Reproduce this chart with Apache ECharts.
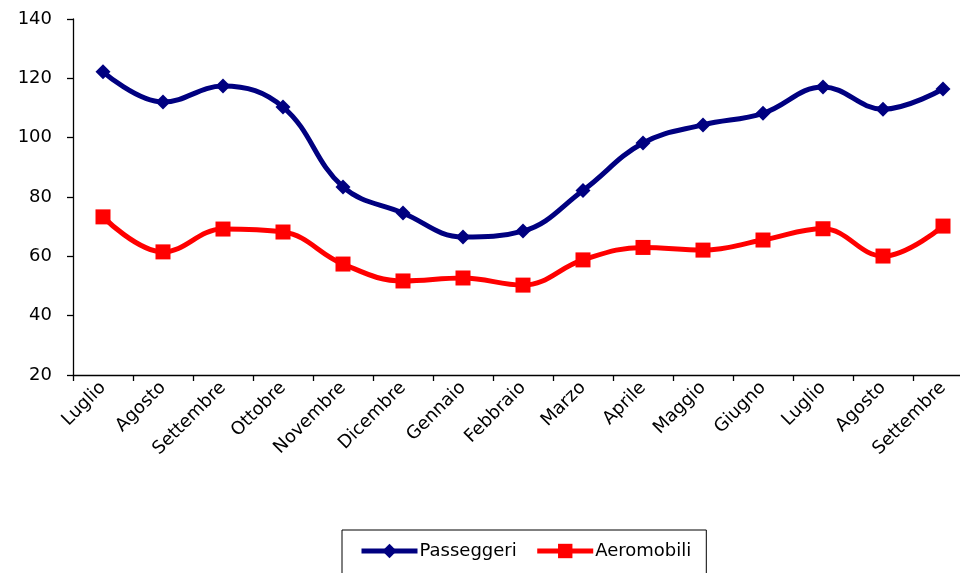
<!DOCTYPE html>
<html><head><meta charset="utf-8">
<script src="https://cdn.jsdelivr.net/npm/echarts@6/dist/echarts.min.js"></script>
<style>html,body{margin:0;padding:0;background:#fff;overflow:hidden}#c{width:1000px;height:573px}</style>
</head><body><div id="c"></div>
<script>
const categories = ['Luglio','Agosto','Settembre','Ottobre','Novembre','Dicembre','Gennaio','Febbraio','Marzo','Aprile','Maggio','Giugno','Luglio','Agosto','Settembre'];
const passeggeri = [122.2, 112.0, 117.4, 110.3, 83.4, 74.6, 66.5, 68.5, 82.2, 98.2, 104.3, 108.2, 117.1, 109.6, 116.4];
const aeromobili = [73.3, 61.5, 69.2, 68.2, 57.4, 51.7, 52.7, 50.3, 58.8, 63.0, 62.1, 65.5, 69.3, 60.1, 70.2];
const yTicks = {min: 20, max: 140, interval: 20};

const font = 'DejaVu Sans';
const chart = echarts.init(document.getElementById('c'), null, {renderer: 'canvas'});
chart.setOption({
  animation: false,
  textStyle: {fontFamily: font},
  grid: {left: 73, top: 19, width: 900, height: 356, containLabel: false},
  legend: {
    top: 530, left: 342,
    padding: [12, 15, 30, 17],
    borderColor: '#000', borderWidth: 1,
    itemWidth: 56, itemHeight: 18, itemGap: 18,
    lineStyle: {width: 5},
    textStyle: {fontFamily: font, fontSize: 18, color: '#000', padding: [0,0,0,-3]},
    data: ['Passeggeri', 'Aeromobili']
  },
  xAxis: {
    type: 'category', data: categories, boundaryGap: true,
    axisLine: {lineStyle: {color: '#000', width: 1.3}},
    axisTick: {show: true, length: 6, lineStyle: {color: '#000', width: 1.3}},
    axisLabel: {rotate: 45, interval: 0, fontFamily: font, fontSize: 18, color: '#000', margin: 10},
    splitLine: {show: false}
  },
  yAxis: {
    type: 'value', min: yTicks.min, max: yTicks.max, interval: yTicks.interval,
    axisLine: {show: true, lineStyle: {color: '#000', width: 1.3}},
    axisTick: {show: true, length: 6, lineStyle: {color: '#000', width: 1.3}},
    axisLabel: {fontFamily: font, fontSize: 18, color: '#000', margin: 8, padding: [0, 13, 0, 0]},
    splitLine: {show: false}
  },
  series: [
    {name: 'Passeggeri', type: 'line', data: passeggeri, smooth: 0.4,
     symbol: 'diamond', symbolSize: 15,
     lineStyle: {color: '#000080', width: 5},
     itemStyle: {color: '#000080'}},
    {name: 'Aeromobili', type: 'line', data: aeromobili, smooth: 0.4,
     symbol: 'rect', symbolSize: 15,
     lineStyle: {color: '#ff0000', width: 5},
     itemStyle: {color: '#ff0000'}}
  ]
});
</script></body></html>
